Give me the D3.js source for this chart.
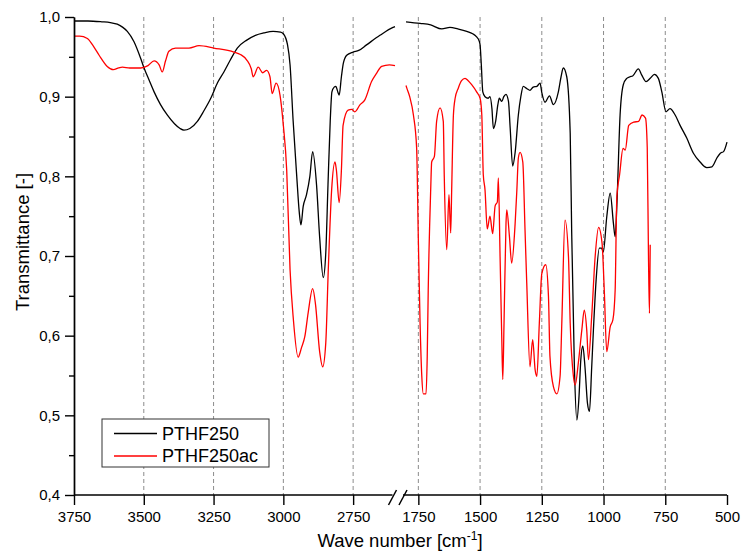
<!DOCTYPE html>
<html>
<head>
<meta charset="utf-8">
<script src="https://cdn.jsdelivr.net/npm/d3@7"></script>
<style>
  body { margin: 0; background: #fff; }
  svg text { font-family: Arial, "Liberation Sans", sans-serif; fill: #000; }
  .grid line { stroke: #8c8c8c; stroke-dasharray: 4,3; stroke-width: 1; }
  .axis path, .axis line { stroke: #000; stroke-width: 1.4; }
</style>
</head>
<body>
<script>
// wave number [cm-1], transmittance
var pthf250Left = [
  [3750,0.995],[3700,0.995],[3650,0.994],[3620,0.993],[3595,0.991],[3575,0.987],[3559,0.982],
  [3535,0.969],[3511,0.948],[3499,0.936],[3480,0.92],[3463,0.906],[3440,0.89],[3416,0.877],
  [3390,0.866],[3370,0.86],[3356,0.858],[3335,0.86],[3308,0.869],[3285,0.882],[3260,0.898],
  [3235,0.918],[3213,0.931],[3190,0.946],[3165,0.961],[3131,0.971],[3100,0.977],[3070,0.98],
  [3037,0.982],[3010,0.981],[3000,0.979],[2985,0.965],[2976,0.94],[2965,0.87],[2952,0.80],
  [2943,0.755],[2937,0.739],[2929,0.762],[2917,0.777],[2905,0.80],[2895,0.831],[2881,0.789],
  [2870,0.724],[2857,0.673],[2848,0.704],[2840,0.79],[2832,0.87],[2826,0.906],[2818,0.912],
  [2812,0.913],[2804,0.905],[2800,0.902],[2792,0.925],[2785,0.942],[2773,0.952],[2750,0.956],
  [2730,0.958],[2702,0.965],[2654,0.977],[2607,0.987],[2600,0.988]
];
var pthf250Right = [
  [1800,0.994],[1743,0.992],[1700,0.99],[1655,0.985],[1622,0.987],[1590,0.985],[1554,0.982],
  [1530,0.979],[1514,0.975],[1504,0.97],[1500,0.965],[1495,0.94],[1489,0.906],[1480,0.9],
  [1467,0.898],[1460,0.9],[1452,0.885],[1446,0.86],[1437,0.869],[1428,0.89],[1422,0.898],
  [1412,0.894],[1404,0.9],[1395,0.903],[1385,0.894],[1378,0.86],[1368,0.813],[1358,0.83],
  [1345,0.877],[1335,0.9],[1325,0.913],[1310,0.91],[1298,0.908],[1285,0.912],[1270,0.913],
  [1257,0.917],[1250,0.905],[1237,0.893],[1219,0.901],[1203,0.89],[1183,0.906],[1172,0.925],
  [1163,0.936],[1149,0.925],[1135,0.854],[1129,0.73],[1118,0.56],[1108,0.494],[1100,0.52],
  [1092,0.57],[1084,0.587],[1075,0.56],[1065,0.515],[1057,0.505],[1048,0.56],[1041,0.607],
  [1030,0.67],[1017,0.71],[1008,0.71],[1001,0.705],[987,0.749],[973,0.779],[960,0.741],
  [953,0.724],[946,0.764],[933,0.877],[920,0.915],[906,0.923],[893,0.925],[882,0.926],
  [859,0.935],[845,0.927],[828,0.919],[811,0.923],[794,0.928],[778,0.923],[764,0.906],
  [747,0.881],[731,0.885],[710,0.877],[690,0.864],[663,0.848],[636,0.829],[609,0.818],
  [582,0.811],[561,0.812],[541,0.823],[527,0.829],[514,0.831],[500,0.843]
];
var pthf250acLeft = [
  [3750,0.976],[3730,0.976],[3702,0.973],[3680,0.963],[3660,0.952],[3631,0.938],[3609,0.934],
  [3590,0.936],[3577,0.937],[3550,0.936],[3511,0.936],[3485,0.939],[3463,0.945],[3445,0.94],
  [3434,0.931],[3422,0.945],[3410,0.957],[3386,0.961],[3338,0.961],[3302,0.964],[3249,0.961],
  [3177,0.956],[3154,0.953],[3131,0.946],[3115,0.935],[3108,0.925],[3090,0.937],[3074,0.93],
  [3060,0.933],[3048,0.925],[3040,0.904],[3026,0.917],[3012,0.902],[3000,0.864],[2988,0.808],
  [2976,0.683],[2964,0.62],[2947,0.573],[2935,0.585],[2923,0.599],[2911,0.629],[2895,0.659],
  [2885,0.64],[2870,0.58],[2859,0.561],[2848,0.591],[2839,0.683],[2827,0.783],[2815,0.818],
  [2810,0.808],[2800,0.767],[2792,0.808],[2786,0.864],[2768,0.883],[2755,0.884],[2744,0.881],
  [2725,0.89],[2708,0.896],[2684,0.919],[2665,0.93],[2648,0.938],[2620,0.94],[2600,0.939]
];
var pthf250acRight = [
  [1800,0.914],[1797,0.911],[1785,0.9],[1770,0.877],[1757,0.836],[1750,0.72],[1743,0.616],
  [1736,0.549],[1730,0.527],[1719,0.527],[1714,0.574],[1710,0.657],[1700,0.783],[1696,0.818],
  [1685,0.825],[1676,0.869],[1662,0.886],[1649,0.869],[1645,0.8],[1635,0.708],[1626,0.777],
  [1619,0.729],[1615,0.783],[1608,0.877],[1601,0.898],[1588,0.911],[1575,0.92],[1561,0.923],
  [1548,0.92],[1534,0.915],[1514,0.906],[1500,0.898],[1493,0.877],[1487,0.802],[1480,0.783],
  [1471,0.734],[1460,0.75],[1449,0.728],[1439,0.763],[1430,0.768],[1426,0.798],[1419,0.699],
  [1412,0.595],[1408,0.545],[1403,0.616],[1395,0.741],[1392,0.758],[1381,0.724],[1372,0.691],
  [1358,0.741],[1351,0.783],[1345,0.823],[1338,0.83],[1327,0.818],[1318,0.733],[1311,0.666],
  [1298,0.561],[1287,0.595],[1277,0.557],[1270,0.549],[1260,0.616],[1250,0.678],[1234,0.689],
  [1223,0.649],[1217,0.574],[1203,0.536],[1189,0.527],[1176,0.549],[1169,0.616],[1156,0.745],
  [1142,0.699],[1135,0.616],[1122,0.549],[1115,0.538],[1102,0.566],[1088,0.607],[1078,0.632],
  [1068,0.607],[1061,0.57],[1048,0.624],[1034,0.699],[1020,0.736],[1006,0.716],[997,0.657],
  [987,0.58],[973,0.611],[962,0.62],[953,0.657],[946,0.775],[935,0.802],[921,0.835],
  [912,0.833],[898,0.864],[878,0.868],[858,0.869],[844,0.877],[830,0.873],[823,0.836],
  [818,0.7],[814,0.628],[811,0.714]
];
var ticksLeft = [3750, 3500, 3250, 3000, 2750];
var ticksRight = [1750, 1500, 1250, 1000, 750, 500];
var ticksY = [0.4, 0.5, 0.6, 0.7, 0.8, 0.9, 1.0];
var minorY = [0.45, 0.55, 0.65, 0.75, 0.85, 0.95];
var seriesNames = ["PTHF250", "PTHF250ac"];
var seriesColors = ["#000000", "#ff0000"];

var width = 744, height = 557;
var plotTop = 17, plotBottom = 495;

var svg = d3.select("body").append("svg")
  .attr("width", width).attr("height", height);

var xL = d3.scaleLinear().domain([3750, 2600]).range([74, 395]);
var xR = d3.scaleLinear().domain([1800, 500]).range([406, 727]);
var y = d3.scaleLinear().domain([0.4, 1.0]).range([plotBottom, plotTop]);

var comma = d3.formatLocale({decimal: ",", thousands: ".", grouping: [3], currency: ["", ""]}).format(".1f");

// dashed grid
var grid = svg.append("g").attr("class", "grid");
ticksLeft.slice(1).forEach(function(t) {
  grid.append("line").attr("x1", xL(t)).attr("x2", xL(t)).attr("y1", plotTop).attr("y2", plotBottom);
});
ticksRight.slice(0, -1).forEach(function(t) {
  grid.append("line").attr("x1", xR(t)).attr("x2", xR(t)).attr("y1", plotTop).attr("y2", plotBottom);
});

// spectra
function drawLine(data, xs, color) {
  var line = d3.line()
    .x(function(d) { return xs(d[0]); })
    .y(function(d) { return y(d[1]); })
    .curve(d3.curveMonotoneX);
  svg.append("path").datum(data)
    .attr("fill", "none").attr("stroke", color)
    .attr("stroke-width", 1.3).attr("stroke-linejoin", "round")
    .attr("d", line);
}
drawLine(pthf250Left, xL, seriesColors[0]);
drawLine(pthf250Right, xR, seriesColors[0]);
drawLine(pthf250acLeft, xL, seriesColors[1]);
drawLine(pthf250acRight, xR, seriesColors[1]);

// x axes
svg.append("g").attr("class", "axis").attr("transform", "translate(0," + plotBottom + ")")
  .call(d3.axisBottom(xL).tickValues(ticksLeft).tickFormat(d3.format("d")).tickSize(10).tickPadding(6));
svg.append("g").attr("class", "axis").attr("transform", "translate(0," + plotBottom + ")")
  .call(d3.axisBottom(xR).tickValues(ticksRight).tickFormat(d3.format("d")).tickSize(10).tickPadding(6));
svg.selectAll(".axis .domain").remove();
svg.append("line").attr("x1", 74).attr("x2", 392.5).attr("y1", plotBottom).attr("y2", plotBottom)
  .attr("stroke", "#000").attr("stroke-width", 1.4);
svg.append("line").attr("x1", 403).attr("x2", 727).attr("y1", plotBottom).attr("y2", plotBottom)
  .attr("stroke", "#000").attr("stroke-width", 1.4);
// break marks
[[388.5, 396.5], [399, 407]].forEach(function(s) {
  svg.append("line").attr("x1", s[0]).attr("y1", plotBottom + 10).attr("x2", s[1]).attr("y2", plotBottom - 5)
    .attr("stroke", "#000").attr("stroke-width", 1.5);
});

// y axis
svg.append("g").attr("class", "axis").attr("transform", "translate(74,0)")
  .call(d3.axisLeft(y).tickValues(ticksY).tickFormat(comma).tickSize(9).tickPadding(5).tickSizeOuter(0));
svg.append("g").attr("class", "axis").attr("transform", "translate(74,0)")
  .call(d3.axisLeft(y).tickValues(minorY).tickFormat("").tickSize(5).tickSizeOuter(0));
svg.selectAll(".axis text").style("font-size", "15px").style("font-family", "Arial, 'Liberation Sans', sans-serif");

// titles
svg.append("text").attr("transform", "translate(29,242) rotate(-90)")
  .attr("text-anchor", "middle").style("font-size", "18.5px").text("Transmittance [-]");
var xt = svg.append("text").attr("x", 400).attr("y", 547).attr("text-anchor", "middle").style("font-size", "18.5px");
xt.append("tspan").text("Wave number [cm");
xt.append("tspan").attr("dy", -7).style("font-size", "12px").text("-1");
xt.append("tspan").attr("dy", 7).text("]");

// legend
var lg = svg.append("g");
lg.append("rect").attr("x", 102).attr("y", 419).attr("width", 167).attr("height", 48)
  .attr("fill", "#fff").attr("stroke", "#333").attr("stroke-width", 1);
seriesNames.forEach(function(n, i) {
  var yy = 433.5 + i * 22.5;
  lg.append("line").attr("x1", 114).attr("x2", 157).attr("y1", yy).attr("y2", yy)
    .attr("stroke", seriesColors[i]).attr("stroke-width", 1.3);
  lg.append("text").attr("x", 162).attr("y", yy + 6).style("font-size", "18px").text(n);
});
</script>
</body>
</html>
